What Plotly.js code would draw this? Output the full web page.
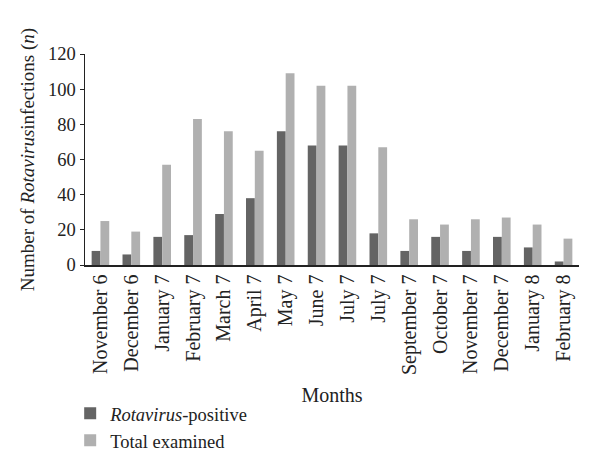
<!DOCTYPE html>
<html>
<head>
<meta charset="utf-8">
<script src="https://cdn.plot.ly/plotly-3.0.1.min.js"></script>
<style>html,body{margin:0;padding:0;background:#fff;}#chart{width:600px;height:472px;}</style>
</head>
<body>
<div id="chart"></div>
<script>
const months = ["November 6","December 6","January 7","February 7","March 7","April 7","May 7","June 7","July 7","July 7","September 7","October 7","November 7","December 7","January 8","February 8"];
const positive = [8,6,16,17,29,38,76,68,68,18,8,16,8,16,10,2];
const totalExamined = [25,19,57,83,76,65,109,102,102,67,26,23,26,27,23,15];
const yTicks = [0,20,40,60,80,100,120];

const idx = months.map((m,i)=>i);
const font = "Liberation Serif, Times New Roman, serif";

const traces = [
  {type:"bar", x:idx, y:positive, name:"<i>Rotavirus</i>-positive", marker:{color:"#646464"}},
  {type:"bar", x:idx, y:totalExamined, name:"Total examined", marker:{color:"#b0b0b0"}}
];

const layout = {
  width:600, height:472,
  margin:{l:85, r:21, t:54, b:205},
  paper_bgcolor:"#fff", plot_bgcolor:"#fff",
  font:{family:font, size:19, color:"#222"},
  barmode:"group", bargap:0.43, bargroupgap:0,
  showlegend:true,
  legend:{orientation:"v", x:-0.03, xanchor:"left", y:-0.615, yanchor:"top",
          font:{family:font, size:18.5, color:"#222"}, tracegroupgap:0, itemsizing:"constant", bgcolor:"rgba(0,0,0,0)", borderwidth:0},
  xaxis:{
    tickmode:"array", tickvals:idx, ticktext:months, tickangle:-90,
    range:[-0.5, months.length-0.5], automargin:false,
    showline:true, linecolor:"#222", linewidth:1.5, ticks:"", showgrid:false, zeroline:false,
    tickfont:{family:font, size:20, color:"#222"},
    title:{text:"Months", font:{family:font, size:20, color:"#222"}, standoff:14}
  },
  yaxis:{
    range:[0,120], tickmode:"array", tickvals:yTicks, automargin:false,
    showline:true, linecolor:"#222", linewidth:1.5, ticks:"outside", ticklen:4, tickcolor:"#222",
    showgrid:false, zeroline:false,
    tickfont:{family:font, size:18.5, color:"#222"},
    title:{text:"Number of <i>Rotavirus</i>infections (<i>n</i>)", font:{family:font, size:19, color:"#222"}, standoff:8}
  }
};

Plotly.newPlot("chart", traces, layout, {displayModeBar:false, staticPlot:true});
</script>
</body>
</html>
